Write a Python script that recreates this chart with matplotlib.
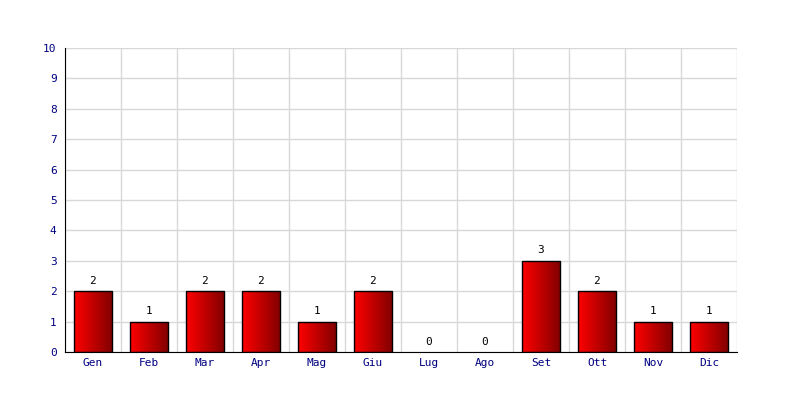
import numpy as np
import matplotlib
matplotlib.use('Agg')
import matplotlib.pyplot as plt
from matplotlib.colors import LinearSegmentedColormap

months = ['Gen', 'Feb', 'Mar', 'Apr', 'Mag', 'Giu', 'Lug', 'Ago', 'Set', 'Ott', 'Nov', 'Dic']
counts = [2, 1, 2, 2, 1, 2, 0, 0, 3, 2, 1, 1]
y_ticks = list(range(0, 11))

plt.rcParams['font.family'] = ['DejaVu Sans Mono']

fig = plt.figure(figsize=(8, 4), dpi=100)
ax = fig.add_axes([65 / 800, 48 / 400, 672 / 800, 304 / 400])

x = np.arange(len(months))
bar_w = 0.68
cmap = LinearSegmentedColormap.from_list('redgrad', ['#ff0000', '#800000'])
grad = np.linspace(0, 1, 256).reshape(1, -1)

bars = ax.bar(x, counts, width=bar_w, color='none', edgecolor='black', linewidth=1, zorder=3)
for b, v in zip(bars, counts):
    ax.text(b.get_x() + b.get_width() / 2, v + 0.18, str(v), ha='center', va='bottom', fontsize=8, color='black')
    if v == 0:
        b.set_linewidth(0)
        continue
    x0, y0 = b.get_x(), b.get_y()
    im = ax.imshow(grad, cmap=cmap, aspect='auto', extent=[x0, x0 + b.get_width(), y0, y0 + b.get_height()], zorder=2)
    im.set_clip_path(b)

ax.set_xlim(-0.5, len(months) - 0.5)
ax.set_ylim(0, 10)
ax.set_yticks(y_ticks)
ax.set_xticks(x)
ax.set_xticklabels(months)
ax.set_xticks(np.arange(-0.5, len(months), 1), minor=True)
ax.tick_params(axis='both', which='both', length=0, labelcolor='#000080', labelsize=8)
ax.tick_params(axis='y', pad=6)
ax.tick_params(axis='x', pad=4)
ax.grid(True, which='minor', axis='x', color='#d8d8d8', linewidth=1, zorder=0)
ax.grid(True, which='major', axis='y', color='#d8d8d8', linewidth=1, zorder=0)
ax.set_axisbelow(True)
for s in ['top', 'right']:
    ax.spines[s].set_visible(False)
ax.spines['left'].set_color('black')
ax.spines['bottom'].set_color('black')

plt.savefig('out.png', dpi=100)
